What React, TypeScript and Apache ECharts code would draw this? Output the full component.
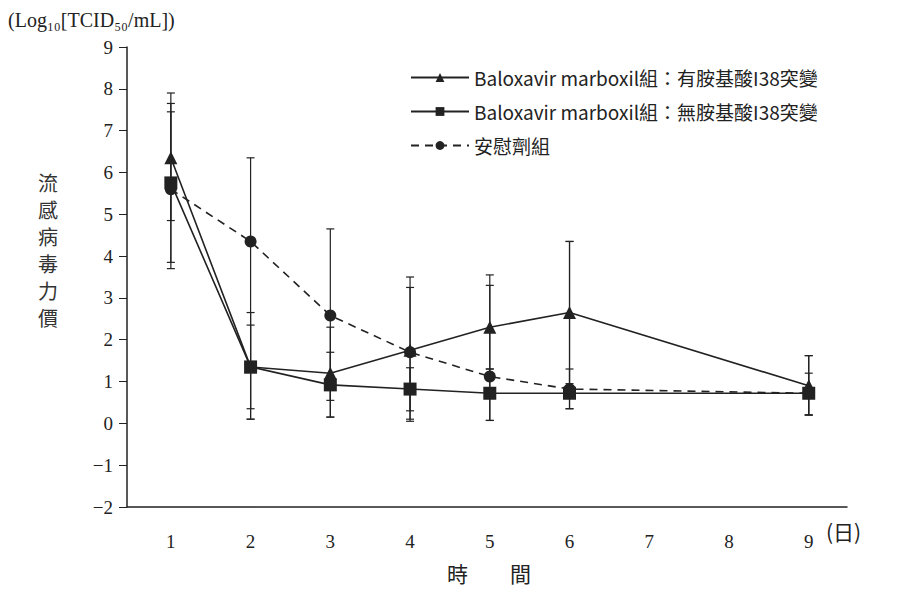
import React, { useEffect, useRef } from 'react';
import * as echarts from 'echarts';

const days = [1, 2, 3, 4, 5, 6, 9];
const dayLabels = [1, 2, 3, 4, 5, 6, 7, 8, 9];
const names = [
  'Baloxavir marboxil組：有胺基酸I38突變',
  'Baloxavir marboxil組：無胺基酸I38突變',
  '安慰劑組',
];
const yTitle = ['流', '感', '病', '毒', '力', '價'];
const withI38 = [6.35, 1.35, 1.2, 1.75, 2.3, 2.65, 0.9];
const withI38Low = [4.85, 0.35, 0.55, 0.05, 1.3, 0.95, 0.2];
const withI38High = [7.9, 2.35, 1.7, 3.5, 3.55, 4.35, 1.62];
const noI38 = [5.75, 1.35, 0.92, 0.82, 0.72, 0.72, 0.72];
const noI38Low = [3.85, 0.1, 0.15, 0.3, 0.07, 0.35, 0.2];
const noI38High = [7.65, 2.65, 2.3, 1.33, 1.3, 1.3, 1.2];
const placebo = [5.6, 4.35, 2.58, 1.7, 1.12, 0.82, 0.72];
const placeboLow = [3.7, 0.1, 0.15, 0.1, 0.07, 0.35, 0.2];
const placeboHigh = [7.45, 6.35, 4.65, 3.25, 3.3, 4.35, 1.62];

const serif = '"Liberation Serif", "DejaVu Serif", serif';
const cjk = '"Noto Sans CJK TC", sans-serif';
const ink = '#222';

function errorSeries(low: number[], high: number[]) {
  return {
    type: 'custom' as const,
    silent: true,
    z: 1,
    data: days.map((d, i) => [d, low[i], high[i]]),
    renderItem: (_p: any, api: any) => {
      const lo = api.coord([api.value(0), api.value(1)]);
      const hi = api.coord([api.value(0), api.value(2)]);
      const w = 4;
      const st = { stroke: ink, lineWidth: 1.2 };
      return {
        type: 'group',
        children: [
          { type: 'line', shape: { x1: lo[0], y1: lo[1], x2: hi[0], y2: hi[1] }, style: st },
          { type: 'line', shape: { x1: lo[0] - w, y1: lo[1], x2: lo[0] + w, y2: lo[1] }, style: st },
          { type: 'line', shape: { x1: hi[0] - w, y1: hi[1], x2: hi[0] + w, y2: hi[1] }, style: st },
        ],
      };
    },
  };
}

export default function App() {
  const ref = useRef<HTMLDivElement>(null);
  useEffect(() => {
    document.body.style.margin = '0';
    if (!ref.current) return;
    const chart = echarts.init(ref.current, null, { renderer: 'svg' });
    chart.setOption({
      animation: false,
      backgroundColor: '#fff',
      grid: { left: 127, right: 67, top: 47, bottom: 86 },
      legend: {
        data: names,
        orient: 'vertical',
        left: 405,
        top: 63,
        itemGap: 15,
        itemWidth: 58,
        itemHeight: 11,
        textStyle: { fontFamily: cjk, fontSize: 19, color: ink },
      },
      xAxis: {
        type: 'value',
        min: 0.45,
        max: 9.48,
        axisLine: { onZero: false, lineStyle: { color: ink, width: 1.5 } },
        axisTick: { show: false },
        axisLabel: { show: false },
        splitLine: { show: false },
      },
      yAxis: {
        type: 'value',
        min: -2,
        max: 9,
        interval: 1,
        axisLine: { show: true, onZero: false, lineStyle: { color: ink, width: 1.5 } },
        axisTick: { show: true, length: 8, lineStyle: { color: ink } },
        axisLabel: {
          fontFamily: serif,
          fontSize: 19,
          color: ink,
          margin: 14,
          formatter: (v: number) => (v < 0 ? '\u2212' + Math.abs(v) : String(v)),
        },
        splitLine: { show: false },
      },
      graphic: [
        { type: 'text', left: 8, top: 10, style: { text: '(Log₁₀[TCID₅₀/mL])', font: `20px ${serif}`, fill: ink } },
        ...yTitle.map((c, i) => ({
          type: 'text', left: 38, top: 172 + i * 27, style: { text: c, font: `20px ${cjk}`, fill: '#333' },
        })),
        { type: 'text', left: 826, top: 520, style: { text: '(日)', font: `21px ${cjk}`, fill: ink } },
        { type: 'text', left: 447, top: 562, style: { text: '時　　間', font: `21px ${cjk}`, fill: ink } },
      ],
      series: [
        errorSeries(withI38Low, withI38High),
        errorSeries(noI38Low, noI38High),
        errorSeries(placeboLow, placeboHigh),
        {
          type: 'custom',
          silent: true,
          clip: false,
          data: dayLabels.map((d) => [d, -2]),
          renderItem: (_p: any, api: any) => {
            const pt = api.coord([api.value(0), api.value(1)]);
            return {
              type: 'text',
              x: pt[0],
              y: pt[1] + 34,
              style: {
                text: String(api.value(0)),
                font: `19px ${serif}`,
                fill: ink,
                align: 'center',
                verticalAlign: 'middle',
              },
            };
          },
        },
        {
          name: names[0],
          type: 'line',
          data: days.map((d, i) => [d, withI38[i]]),
          symbol: 'triangle',
          symbolSize: 13,
          itemStyle: { color: ink },
          lineStyle: { color: ink, width: 1.6 },
          z: 3,
        },
        {
          name: names[1],
          type: 'line',
          data: days.map((d, i) => [d, noI38[i]]),
          symbol: 'rect',
          symbolSize: 13,
          itemStyle: { color: ink },
          lineStyle: { color: ink, width: 1.6 },
          z: 3,
        },
        {
          name: names[2],
          type: 'line',
          data: days.map((d, i) => [d, placebo[i]]),
          symbol: 'circle',
          symbolSize: 12,
          itemStyle: { color: ink },
          lineStyle: { color: ink, width: 1.6, type: [8, 6] },
          z: 3,
        },
      ],
    });
    return () => chart.dispose();
  }, []);
  return <div ref={ref} style={{ width: 914, height: 593 }} />;
}
